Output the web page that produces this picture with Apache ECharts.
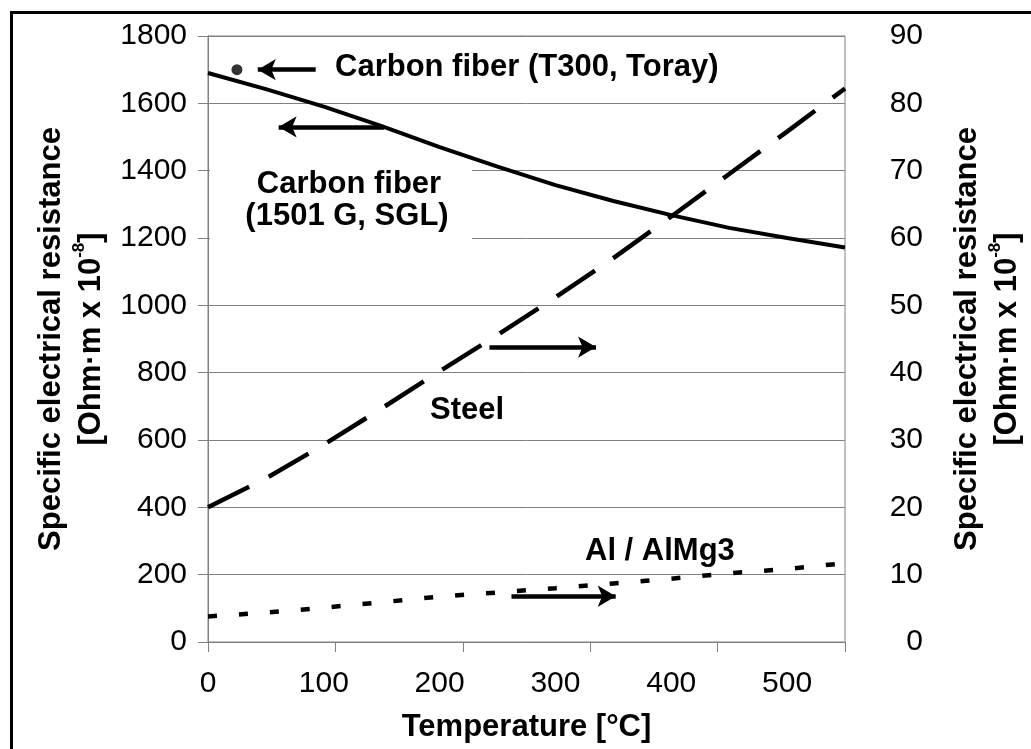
<!DOCTYPE html>
<html><head><meta charset="utf-8">
<script src="https://cdn.jsdelivr.net/npm/echarts@6/dist/echarts.min.js"></script>
<style>html,body{margin:0;padding:0;background:#fff}#c{width:1031px;height:749px}</style>
</head><body><div id="c"></div>
<script>
const temps = [0, 50, 100, 150, 200, 250, 300, 350, 400, 450, 500, 550];
const carbonSGL = [1690, 1642, 1590, 1532, 1470, 1412, 1357, 1310, 1268, 1230, 1200, 1172];
const steel = [20, 24.3, 29.3, 34.7, 40.2, 45.6, 51.2, 57, 63.2, 69.5, 75.8, 82.2];
const alMg = [3.8, 4.35, 5.1, 5.9, 6.75, 7.35, 8.0, 8.7, 9.4, 10.2, 10.85, 11.7];
const torayPoint = [[25, 1700]];
const xTickLabels = [0, 100, 200, 300, 400, 500];
const leftTicks = [0, 200, 400, 600, 800, 1000, 1200, 1400, 1600, 1800];
const rightTicks = [0, 10, 20, 30, 40, 50, 60, 70, 80, 90];
// annotation arrows in data space: [[x1,y1],[x2,y2]] (tail -> head)
const arrowTorayLeft = [[93, 1700], [43, 1700]];
const arrowSGLLeft = [[152, 1530], [61, 1530]];
const arrowSteelRight = [[243, 43.8], [335, 43.8]];
const arrowAlRight = [[262, 6.8], [352, 6.8]];

const FONT = '"Liberation Sans", Arial, sans-serif';
const zip = (xs, ys) => xs.map((x, i) => [x, ys[i]]);
const arrowLine = (pts) => ({
  silent: true, symbol: ['none', 'arrow'], symbolSize: [16, 18],
  lineStyle: { color: '#000', width: 4.5, type: 'solid' }, label: { show: false },
  data: [[{ coord: pts[0] }, { coord: pts[1] }]]
});
const chart = echarts.init(document.getElementById('c'), null, { renderer: 'canvas' });
const gray = '#808080';
const nameRich = {
  t: { fontFamily: FONT, fontSize: 31, fontWeight: 'bold', color: '#000', lineHeight: 40 },
  s: { fontFamily: FONT, fontSize: 17, fontWeight: 'bold', color: '#000', lineHeight: 30, verticalAlign: 'top' }
};
const nameText = '{t|Specific electrical resistance}\n{t|[Ohm·m x 10}{s|-8}{t|]}';
const bold = 'bold 31px ' + FONT;
chart.setOption({
  animation: false,
  backgroundColor: '#fff',
  grid: { left: 208, right: 186, top: 36, bottom: 107, show: true, borderColor: gray, borderWidth: 1, backgroundColor: 'transparent' },
  xAxis: [{
    type: 'value', min: 0, max: 550, interval: 100, position: 'bottom',
    name: 'Temperature [°C]', nameLocation: 'middle', nameGap: 70,
    nameTextStyle: { fontFamily: FONT, fontSize: 31, fontWeight: 'bold', color: '#000' },
    axisLine: { show: true, lineStyle: { color: gray, width: 1 } },
    axisTick: { show: false },
    axisLabel: { fontFamily: FONT, fontSize: 30, color: '#000', margin: 27, showMaxLabel: false,
      formatter: v => xTickLabels.includes(v) ? String(v) : '' },
    splitLine: { show: false }
  }, {
    type: 'value', min: 0, max: 550, interval: 110, position: 'bottom',
    axisLine: { show: false }, axisLabel: { show: false }, splitLine: { show: false },
    axisTick: { show: true, length: 10, lineStyle: { color: gray, width: 1 } }
  }],
  yAxis: [{
    type: 'value', min: 0, max: 1800, interval: 200, position: 'left',
    name: nameText, nameLocation: 'middle', nameRotate: 90, nameGap: 97,
    nameTextStyle: { rich: nameRich, align: 'center' },
    axisLine: { show: true, lineStyle: { color: gray, width: 1 } },
    axisTick: { show: true, length: 10, lineStyle: { color: gray } },
    axisLabel: { fontFamily: FONT, fontSize: 30, color: '#000', margin: 21,
      formatter: v => leftTicks.includes(v) ? String(v) : '' },
    splitLine: { show: true, lineStyle: { color: gray, width: 1 } }
  }, {
    type: 'value', min: 0, max: 90, interval: 10, position: 'right',
    name: nameText, nameLocation: 'middle', nameRotate: 90, nameGap: 102,
    nameTextStyle: { rich: nameRich, align: 'center' },
    axisLine: { show: true, lineStyle: { color: gray, width: 1 } },
    axisTick: { show: false },
    axisLabel: { fontFamily: FONT, fontSize: 30, color: '#000', margin: 78, align: 'right',
      formatter: v => rightTicks.includes(v) ? String(v) : '' },
    splitLine: { show: false }
  }],
  graphic: [
    { type: 'rect', left: 9, top: 10, shape: { width: 1100, height: 800 }, style: { fill: 'none', stroke: '#000', lineWidth: 3 }, z: 100 },
    { type: 'rect', left: 210, top: 150, shape: { width: 262, height: 110 }, style: { fill: '#fff' }, z: 1 },
    { type: 'text', x: 335, y: 67, style: { text: 'Carbon fiber (T300, Toray)', font: bold, fill: '#000', textAlign: 'left', textVerticalAlign: 'middle' }, z: 5 },
    { type: 'text', x: 349, y: 184, style: { text: 'Carbon fiber', font: bold, fill: '#000', textAlign: 'center', textVerticalAlign: 'middle' }, z: 5 },
    { type: 'text', x: 347, y: 216, style: { text: '(1501 G, SGL)', font: bold, fill: '#000', textAlign: 'center', textVerticalAlign: 'middle' }, z: 5 },
    { type: 'text', x: 430, y: 410, style: { text: 'Steel', font: bold, fill: '#000', textAlign: 'left', textVerticalAlign: 'middle' }, z: 5 },
    { type: 'text', x: 585, y: 551, style: { text: 'Al / AlMg3', font: bold, fill: '#000', textAlign: 'left', textVerticalAlign: 'middle' }, z: 5 }
  ],
  series: [{
    name: 'Carbon fiber (1501 G, SGL)', type: 'line', xAxisIndex: 0, yAxisIndex: 0,
    data: zip(temps, carbonSGL), showSymbol: false, symbol: 'none',
    lineStyle: { color: '#000', width: 4 }, z: 3,
    markLine: arrowLine(arrowSGLLeft)
  }, {
    name: 'Steel', type: 'line', xAxisIndex: 0, yAxisIndex: 1,
    data: zip(temps, steel), showSymbol: false, symbol: 'none',
    lineStyle: { color: '#000', width: 4.5, type: [46, 22] }, z: 3,
    markLine: arrowLine(arrowSteelRight)
  }, {
    name: 'Al / AlMg3', type: 'line', xAxisIndex: 0, yAxisIndex: 1,
    data: zip(temps, alMg), showSymbol: false, symbol: 'none',
    lineStyle: { color: '#000', width: 4.5, type: [9, 22] }, z: 3,
    markLine: arrowLine(arrowAlRight)
  }, {
    name: 'Carbon fiber (T300, Toray)', type: 'scatter', xAxisIndex: 0, yAxisIndex: 0,
    data: torayPoint, symbol: 'circle', symbolSize: 11,
    itemStyle: { color: '#000' }, z: 4,
    markLine: arrowLine(arrowTorayLeft)
  }]
});
</script></body></html>
